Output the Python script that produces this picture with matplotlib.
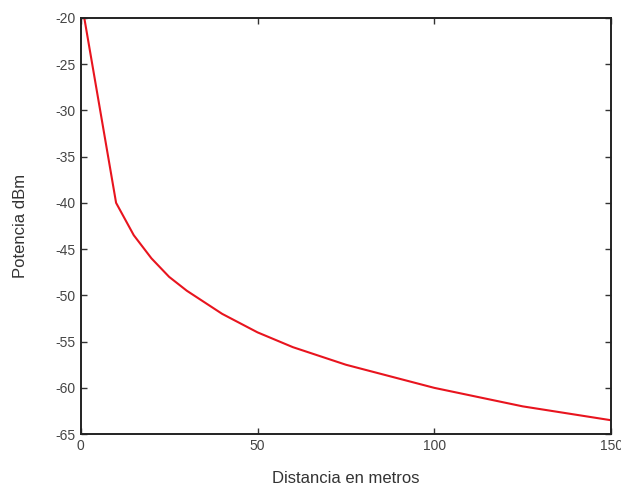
import matplotlib
matplotlib.use("Agg")
import matplotlib.pyplot as plt

plt.rcParams['font.family'] = ['Liberation Sans', 'DejaVu Sans']
plt.rcParams['axes.unicode_minus'] = False

# distance (m) and received power (dBm)
distancia = [1, 10, 15, 20, 25, 30, 40, 50, 60, 75, 100, 125, 150]
potencia = [-20, -40, -43.5, -46, -48, -49.5, -52, -54, -55.6, -57.5, -60, -62, -63.5]

fig = plt.figure(figsize=(6.21, 4.95), dpi=100)
ax = fig.add_axes([0.130, 0.123, 0.854, 0.841])

ax.plot(distancia, potencia, color='#e8141e', linewidth=1.5)

ax.set_xlim(0, 150)
ax.set_ylim(-65, -20)
ax.set_xticks([0, 50, 100, 150])
ax.set_yticks(range(-65, -19, 5))

ax.tick_params(direction='in', length=4, width=1, labelsize=10,
               top=True, right=True, colors='#333333', labelcolor='#444444')
for s in ax.spines.values():
    s.set_linewidth(1.4)
    s.set_color('#222222')

ax.set_xlabel('Distancia en metros', fontsize=12, color='#333333', labelpad=13)
ax.set_ylabel('Potencia dBm', fontsize=12, color='#333333', labelpad=20)

fig.savefig('out.png', dpi=100)
